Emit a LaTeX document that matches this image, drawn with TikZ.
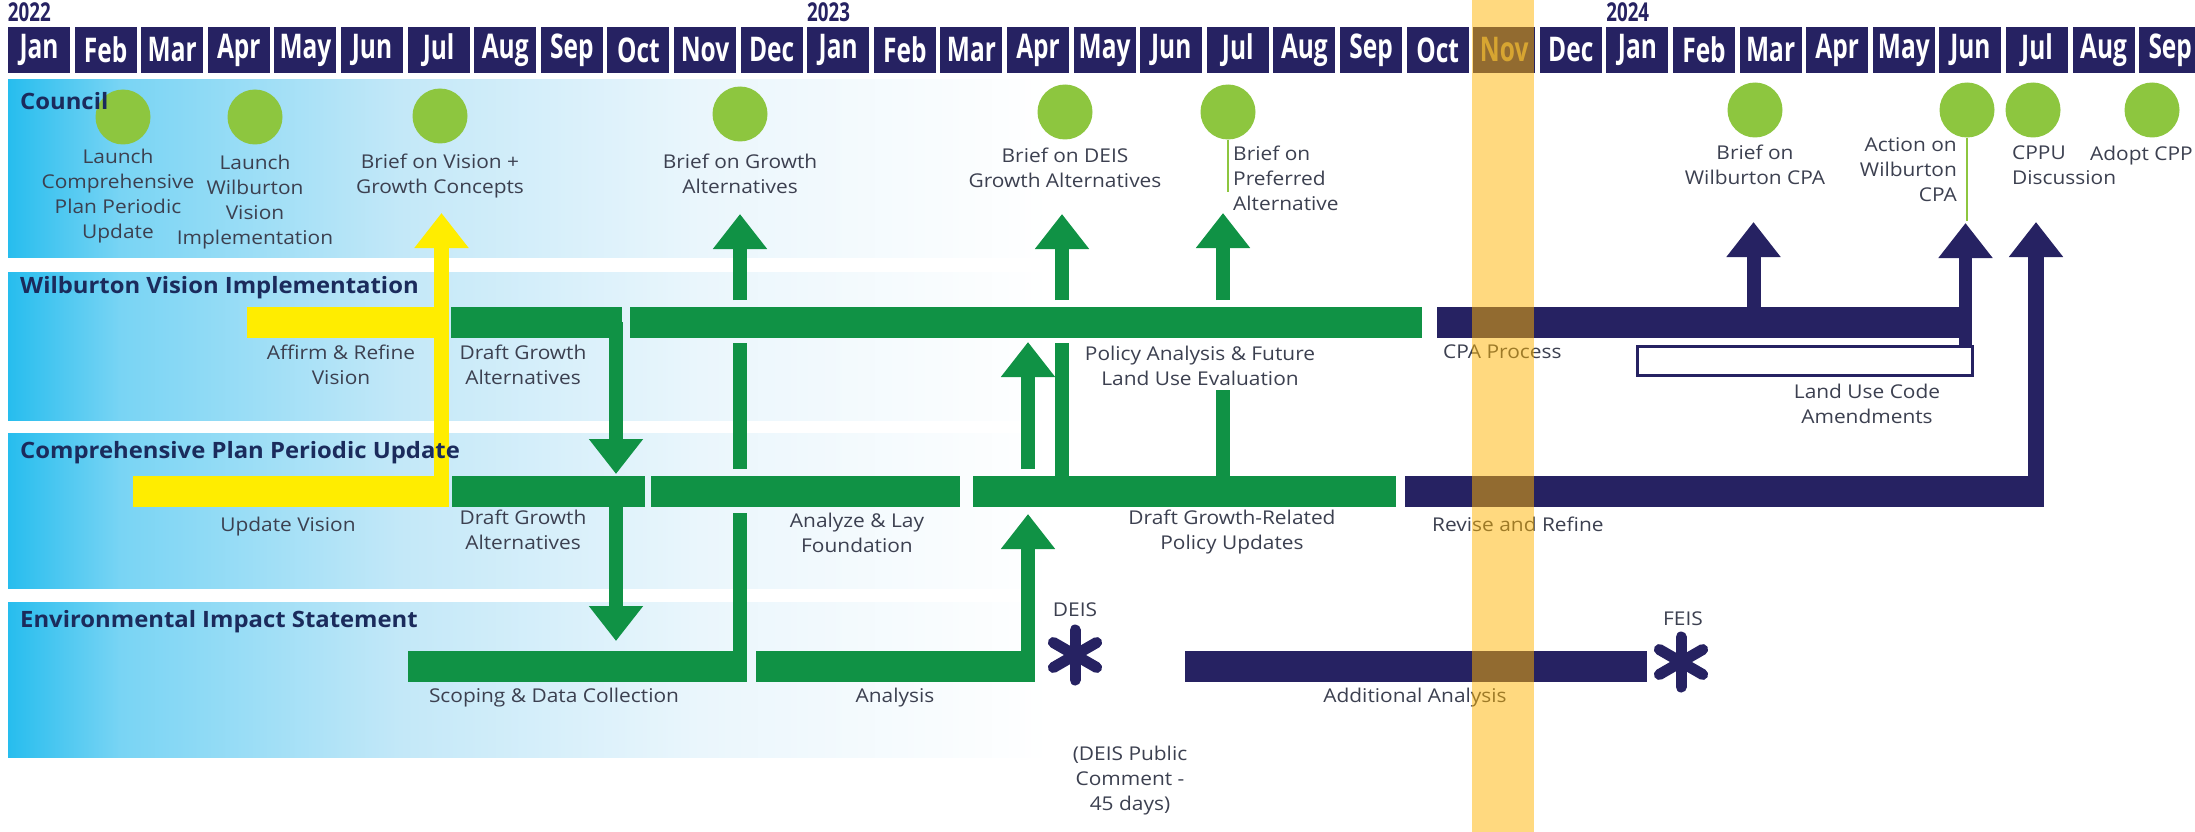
\documentclass[tikz,border=0pt]{standalone}
\usepackage{fontspec}
\setmainfont{Open Sans}
\newfontfamily\monthfont[FakeStretch=0.72]{Open Sans}
\newfontfamily\lblfont[FakeStretch=1.1]{Open Sans}
\newfontfamily\headfont[FakeStretch=1.06]{Open Sans}
\usetikzlibrary{arrows.meta,positioning}

\definecolor{navy}{RGB}{38,34,98}
\definecolor{grn}{RGB}{16,146,69}
\definecolor{yel}{RGB}{255,237,0}
\definecolor{dotgreen}{RGB}{141,198,63}
\definecolor{hdrblue}{RGB}{27,43,92}
\definecolor{txtgrey}{RGB}{60,64,80}
\definecolor{bandgold}{RGB}{255,180,0}
\definecolor{novtxt}{RGB}{175,150,100}
\definecolor{laneA}{RGB}{39,189,238}
\definecolor{laneB}{RGB}{120,212,244}
\definecolor{laneC}{RGB}{195,232,248}
\definecolor{laneD}{RGB}{234,246,252}

\tikzset{
  monthbox/.style={fill=navy,text=white,minimum width=62pt,minimum height=46pt,inner sep=0pt,font=\monthfont\bfseries\fontsize{34}{34}\selectfont},
  yearlbl/.style={text=navy,inner sep=0pt,anchor=base west,font=\monthfont\bfseries\fontsize{26}{26}\selectfont},
  lanehead/.style={text=hdrblue,inner sep=0pt,anchor=base west,font=\headfont\bfseries\fontsize{22.5}{26}\selectfont},
  lbl/.style={text=txtgrey,inner sep=0pt,align=center,anchor=north,font=\lblfont\fontsize{19}{25}\selectfont},
  dot/.style={circle,fill=dotgreen,minimum size=55pt,inner sep=0pt},
  gbar/.style={draw=grn,line width=31pt},
  nbar/.style={draw=navy,line width=31pt},
  ybar/.style={draw=yel,line width=31pt},
  gshaft/.style={draw=grn,line width=14pt},
  nshaft/.style={draw=navy,line width=14pt},
  upto/.style={-{Triangle[width=52pt,length=35pt]}},
  stem/.style={draw=dotgreen,line width=2.5pt},
  star/.style={draw=navy,line width=11pt,line cap=round},
}

\begin{document}
\begin{tikzpicture}[x=1pt,y=-1pt]
	\useasboundingbox (0,0) rectangle (2195,832);
	\fill[white] (0,0) rectangle (2195,832);
%	lanes
	\foreach \ya/\yb in {80/257,272/420,433/588,602/757}
		\foreach \xa/\xb/\ca/\cb in {8/120/laneA/laneB,119/400/laneB/laneC,399/700/laneC/laneD,699/1050/laneD/white}
			\shade[left color=\ca,right color=\cb] (\xa,\ya) rectangle (\xb,\yb);
%	months
	\foreach \m/\c [count=\i from 0] in {Jan/white,Feb/white,Mar/white,Apr/white,May/white,Jun/white,Jul/white,Aug/white,Sep/white,Oct/white,Nov/white,Dec/white,Jan/white,Feb/white,Mar/white,Apr/white,May/white,Jun/white,Jul/white,Aug/white,Sep/white,Oct/white,Nov/novtxt,Dec/white,Jan/white,Feb/white,Mar/white,Apr/white,May/white,Jun/white,Jul/white,Aug/white,Sep/white}
		\node[monthbox,text=\c] (m\i) at ({39+66.6*\i},50) {\m};
	\node[yearlbl] (y2022) at ([yshift=5pt]m0.north west) {2022};
	\node[yearlbl] (y2023) at ([yshift=5pt]m12.north west) {2023};
	\node[yearlbl] (y2024) at ([yshift=5pt]m24.north west) {2024};
%	yellow
	\draw[ybar] (247,322)--(449,322);
	\draw[ybar] (133,491)--(449,491);
	\coordinate (tipVision) at (441.5,213);
	\draw[draw=yel,line width=15pt,upto] (441.5,506.5)--(tipVision);
%	green bars
	\draw[gbar] (451,322)--(622,322);
	\draw[gbar] (630,322)--(1422,322);
	\draw[gbar] (452,491)--(645,491);
	\draw[gbar] (651,491)--(960,491);
	\draw[gbar] (973,491)--(1396,491);
	\draw[gbar] (408,666)--(747,666);
	\draw[gbar] (756,666)--(1035,666);
%	green arrows
	\coordinate (tipGrowth) at (740,214);
	\coordinate (tipDeis) at (1062,214);
	\coordinate (tipPref) at (1223,213);
	\draw[gshaft,upto] (616,322)--(616,474);
	\draw[gshaft,upto] (616,491)--(616,641);
	\draw[gshaft] (740,666)--(740,513);
	\draw[gshaft] (740,469)--(740,343);
	\draw[gshaft,upto] (740,300)--(tipGrowth);
	\draw[gshaft] (1062,491)--(1062,343);
	\draw[gshaft,upto] (1062,300)--(tipDeis);
	\draw[gshaft,upto] (1028,666)--(1028,514);
	\draw[gshaft,upto] (1028,469)--(1028,342);
	\draw[gshaft] (1223,491)--(1223,390);
	\draw[gshaft,upto] (1223,300)--(tipPref);
%	navy
	\draw[nbar] (1437,322)--(1972,322);
	\draw[nbar] (1405,491)--(2044,491);
	\draw[nbar] (1185,666)--(1647,666);
	\coordinate (tipCpa) at (1753.5,222);
	\coordinate (tipAction) at (1965.5,223);
	\coordinate (tipCppu) at (2036,222);
	\draw[nshaft,upto] (1753.5,322)--(tipCpa);
	\draw[nshaft,line width=13pt,upto] (1965.5,345)--(tipAction);
	\draw[nshaft,line width=16pt,upto] (2036,491)--(tipCppu);
	\node[draw=navy,line width=3pt,fill=white,minimum width=335pt,minimum height=29pt,inner sep=0pt] (lucbox) at (1805,361) {};
	\coordinate (deis) at (1075,655);
	\coordinate (feis) at (1681,662);
	\foreach \s in {deis,feis}
		\foreach \a in {90,30,150}
			\draw[star] (\s) ++(\a:25) -- ++({\a+180}:50);
%	council
	\node[dot] (c1) at (123,117) {};
	\node[dot] (c2) at (255,117) {};
	\node[dot] (c3) at (440,116) {};
	\node[dot] (c4) at (740,114) {};
	\node[dot] (c5) at (1065,112) {};
	\node[dot] (c6) at (1228,112) {};
	\node[dot] (c7) at (1755,110) {};
	\node[dot] (c8) at (1967,110) {};
	\node[dot] (c9) at (2033,110) {};
	\node[dot] (c10) at (2152,110) {};
	\draw[stem] (c6.south)--++(0,52);
	\draw[stem] (c8.south)--++(0,83);
	\node[lbl,below=4pt of c1,xshift=-5pt] (l1) {Launch\\Comprehensive\\Plan Periodic\\Update};
	\node[lbl,below=10pt of c2] (l2) {Launch\\Wilburton\\Vision\\Implementation};
	\node[lbl,below=10pt of c3] (l3) {Brief on Vision +\\Growth Concepts};
	\node[lbl,below=12pt of c4] (l4) {Brief on Growth\\Alternatives};
	\node[lbl,below=8pt of c5] (l5) {Brief on DEIS\\Growth Alternatives};
	\node[lbl,anchor=north west,align=left] (l6) at (1233,146) {Brief on\\Preferred\\Alternative};
	\node[lbl,below=7pt of c7] (l7) {Brief on\\Wilburton CPA};
	\node[lbl,anchor=north east,align=right] (l8) at (1957,137) {Action on\\Wilburton\\CPA};
	\node[lbl,anchor=north west,align=left] (l9) at (2012,146) {CPPU\\Discussion};
	\node[lbl,anchor=north east] (l10) at (2193,146) {Adopt CPP};
%	bar labels
	\node[lbl] (tAffirm) at (341,345) {Affirm \& Refine\\Vision};
	\node[lbl] (tDraftW) at (523,345) {Draft Growth\\Alternatives};
	\node[lbl] (tPolicy) at (1200,346) {Policy Analysis \& Future\\Land Use Evaluation};
	\node[lbl,anchor=north west] (tCpa) at (1443,345) {CPA Process};
	\node[lbl] (tLuc) at (1867,384) {Land Use Code\\Amendments};
	\node[lbl] (tUpdate) at (288,517) {Update Vision};
	\node[lbl] (tDraftC) at (523,510) {Draft Growth\\Alternatives};
	\node[lbl] (tAnalyze) at (857,513) {Analyze \& Lay\\Foundation};
	\node[lbl] (tRelated) at (1232,510) {Draft Growth-Related\\Policy Updates};
	\node[lbl,anchor=north west] (tRevise) at (1432,517) {Revise and Refine};
	\node[lbl] (tScoping) at (554,688) {Scoping \& Data Collection};
	\node[lbl] (tAnalysis) at (895,688) {Analysis};
	\node[lbl] (tAdd) at (1415,688) {Additional Analysis};
	\node[lbl] (tDeis) at (1075,603) {DEIS};
	\node[lbl] (tFeis) at (1683,612) {FEIS};
	\node[lbl] (tComment) at (1130,746) {(DEIS Public\\Comment -\\45 days)};
%	lane titles
	\node[lanehead] (hcouncil) at (20,110) {Council};
	\node[lanehead] (hwilb) at (20,293) {Wilburton Vision Implementation};
	\node[lanehead] (hcppu) at (20,458) {Comprehensive Plan Periodic Update};
	\node[lanehead] (heis) at (20,627) {Environmental Impact Statement};
%	current month
	\fill[bandgold,opacity=0.5] (1472,0) rectangle (1534,832);
\end{tikzpicture}
\end{document}
